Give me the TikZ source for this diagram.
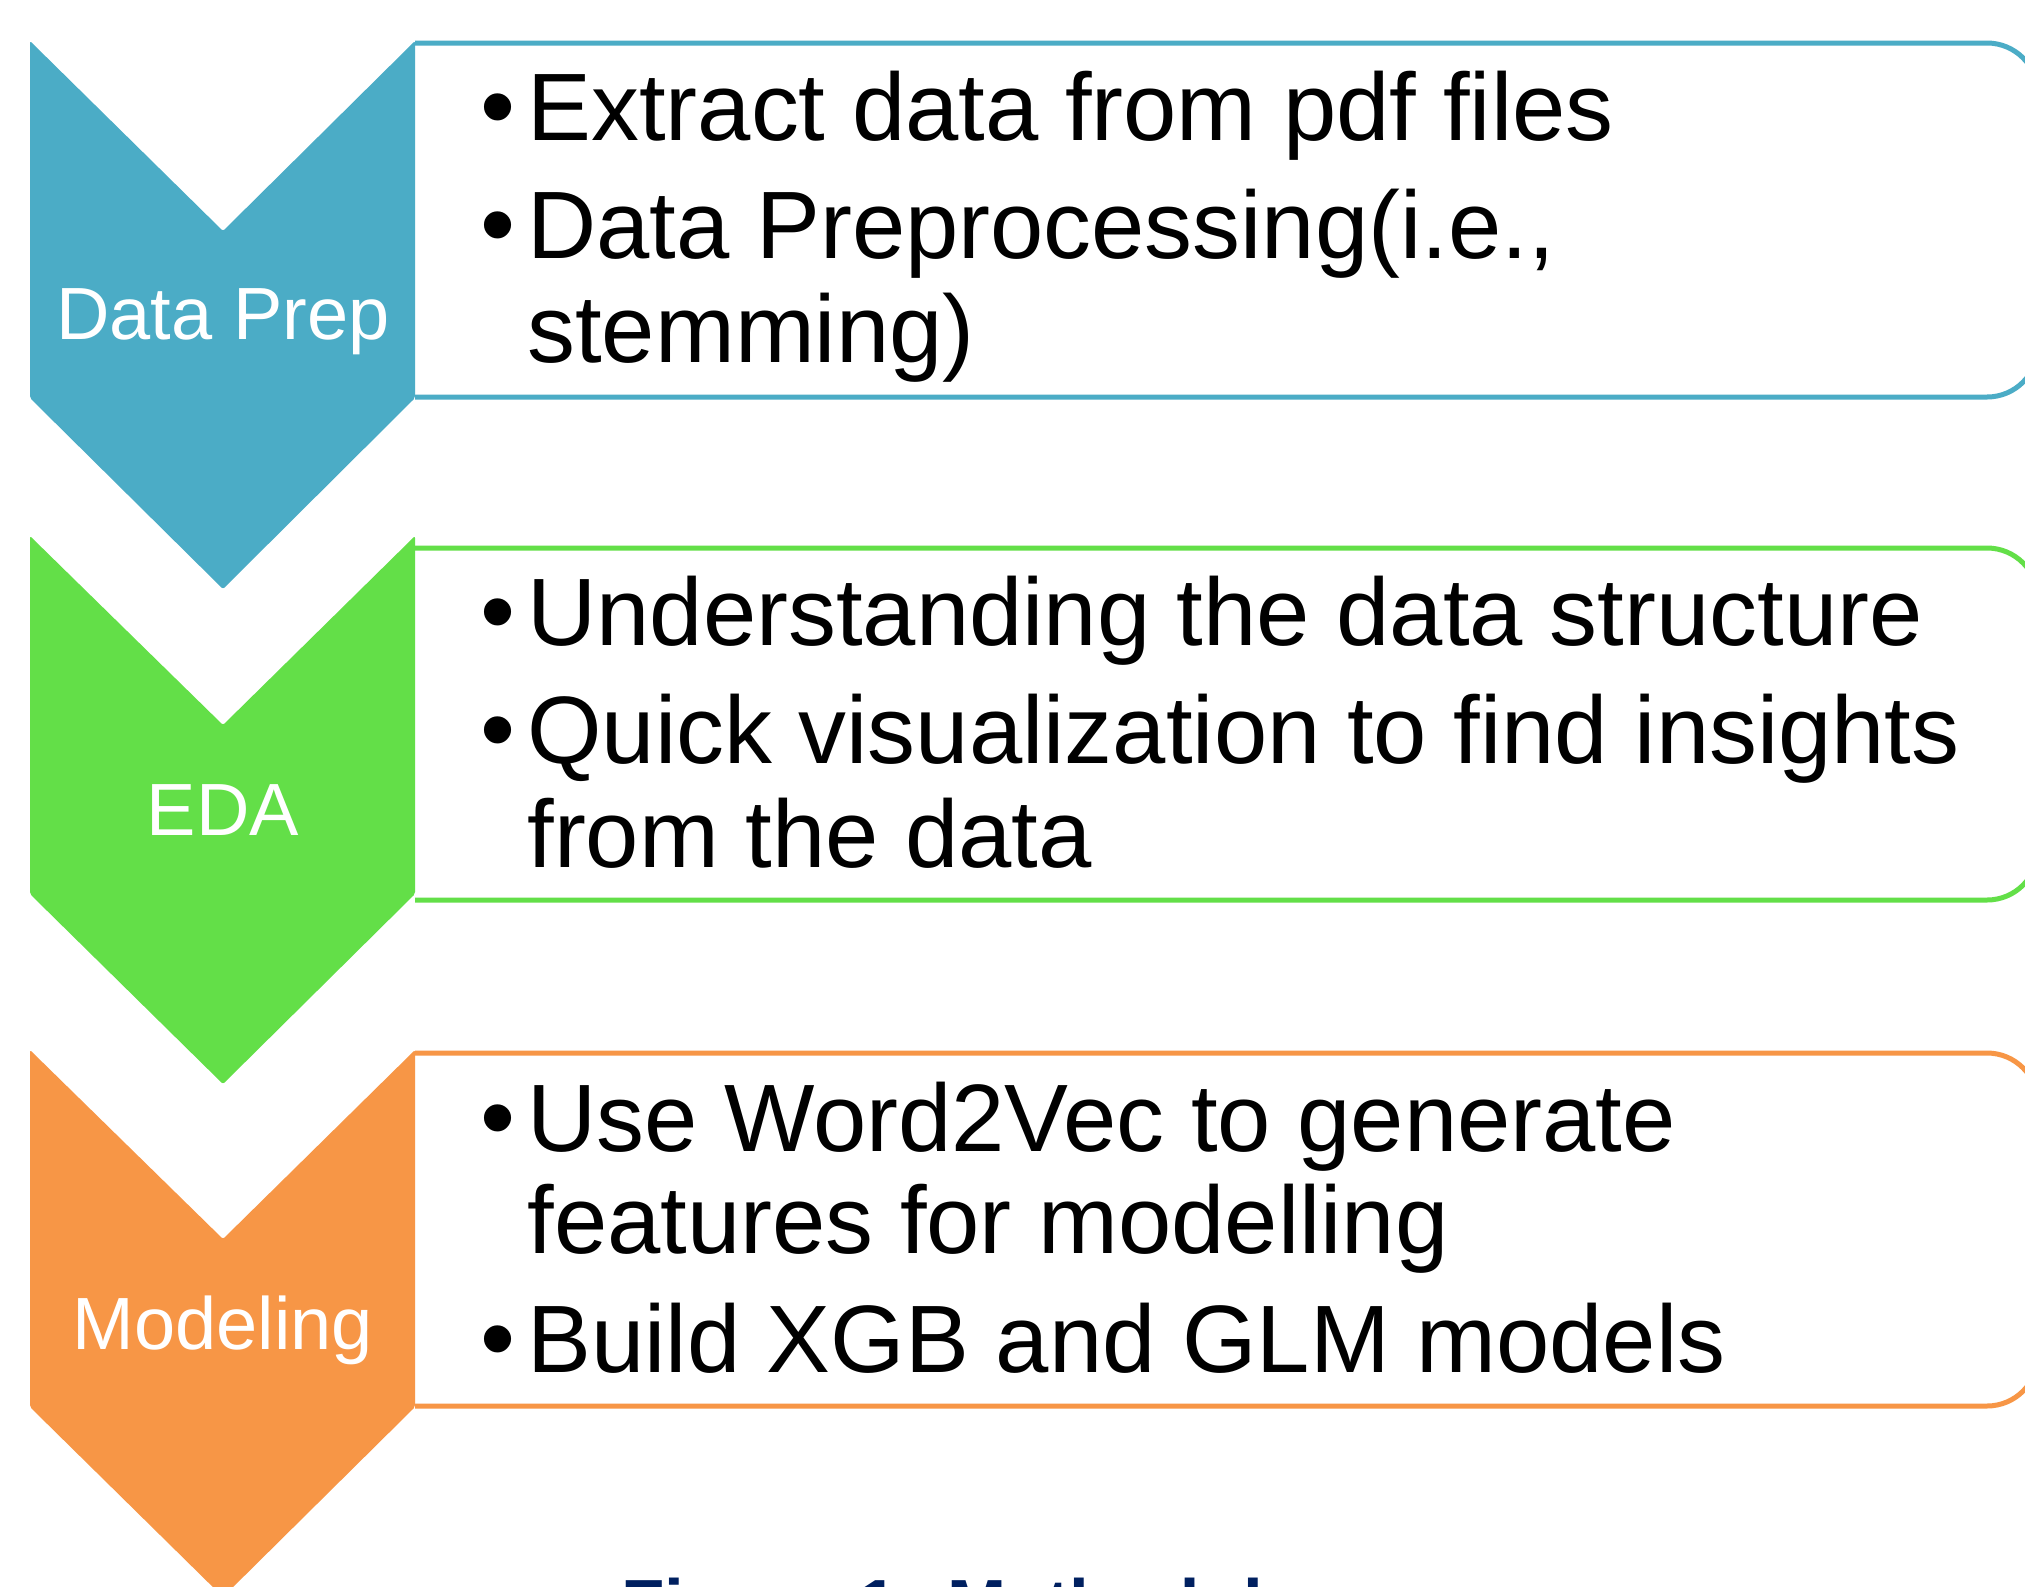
\documentclass[tikz,border=0pt]{standalone}
\usepackage{fontspec}
\setmainfont{Liberation Sans}
\definecolor{cblue}{HTML}{4BACC6}
\definecolor{cgreen}{HTML}{63DF48}
\definecolor{corange}{HTML}{F79646}
\definecolor{cnavy}{HTML}{002060}
\tikzset{
  stepbox/.style={line width=2.5pt, rounded corners=25.5pt, fill=white},
  chev/.style={rounded corners=1pt},
  lbl/.style={anchor=base, inner sep=0pt, text=white, font=\fontsize{37}{44}\selectfont},
  bodyline/.style={anchor=base west, inner sep=0pt, font=\fontsize{47.9}{52}\selectfont},
  bul/.style={anchor=base, inner sep=0pt, font=\fontsize{50}{52}\selectfont},
  captxt/.style={anchor=base west, inner sep=0pt, text=cnavy, font=\fontsize{35.5}{42}\bfseries\selectfont}
}
\begin{document}
\begin{tikzpicture}[x=0.5pt,y=-0.5pt]
\useasboundingbox (0,0) rectangle (2025,1586);
\clip (0,0) rectangle (2025,1586);
\fill[white] (0,0) rectangle (2025,1586);

% content boxes
\draw[stepbox, draw=cblue]   (415,43)   -- (2038,43)   -- (2038,397)  -- (415,397);
\draw[stepbox, draw=cgreen]  (415,548)  -- (2038,548)  -- (2038,900)  -- (415,900);
\draw[stepbox, draw=corange] (415,1053) -- (2038,1053) -- (2038,1406) -- (415,1406);

% chevrons
\fill[chev, cblue]   (30,41)   -- (223,231)  -- (415,41)   -- (415,398)  -- (223,589)  -- (30,398)  -- cycle;
\fill[chev, cgreen]  (30,536)  -- (223,725)  -- (415,536)  -- (415,894)  -- (223,1084) -- (30,894)  -- cycle;
\fill[chev, corange] (30,1050) -- (223,1239) -- (415,1050) -- (415,1407) -- (223,1597) -- (30,1407) -- cycle;

% chevron labels
\node[lbl] (l1) at (223,339) {Data Prep};
\node[lbl] (l2) at (223,835) {EDA};
\node[lbl] (l3) at (223,1349) {Modeling};

% box 1 text
\node[bul]  (b11) at (498,140) {•};
\node[bodyline] (t11) at (527,140) {Extract data from pdf files};
\node[bul]  (b12) at (498,258) {•};
\node[bodyline] (t12) at (527,258) {Data Preprocessing(i.e.,};
\node[bodyline] (t13) at (527,362) {stemming)};

% box 2 text
\node[bul]  (b21) at (498,645) {•};
\node[bodyline] (t21) at (527,645) {Understanding the data structure};
\node[bul]  (b22) at (498,763) {•};
\node[bodyline] (t22) at (527,763) {Quick visualization to find insights};
\node[bodyline] (t23) at (527,867) {from the data};

% box 3 text
\node[bul]  (b31) at (498,1151) {•};
\node[bodyline] (t31) at (527,1151) {Use Word2Vec to generate};
\node[bodyline] (t32) at (527,1253) {features for modelling};
\node[bul]  (b33) at (498,1372) {•};
\node[bodyline] (t33) at (527,1372) {Build XGB and GLM models};

% caption (cut off by the picture edge, as in the reference)
\node[captxt] (caption) at (621,1629) {Figure 1: Methodology};
\end{tikzpicture}
\end{document}
